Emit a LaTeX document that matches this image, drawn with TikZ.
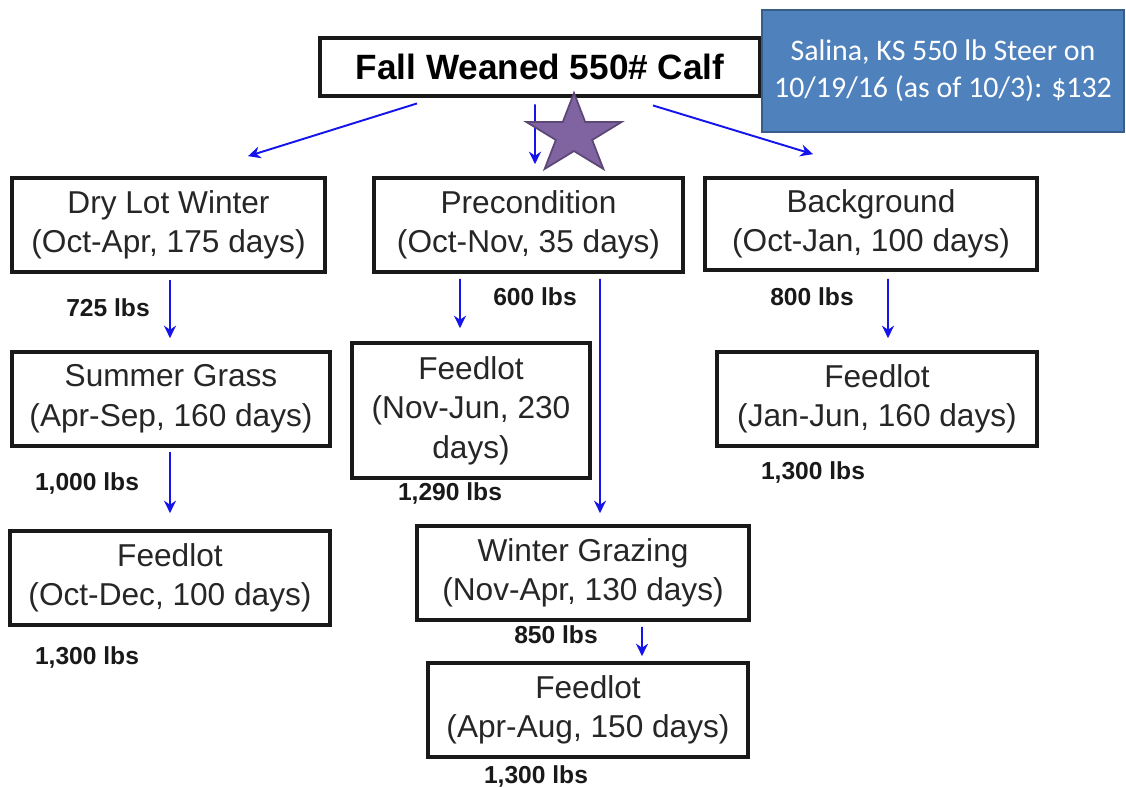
\documentclass[tikz,border=0pt]{standalone}
\usepackage{fontspec}
\setmainfont{Liberation Sans}
\newfontfamily\pricefont{Carlito}
\usetikzlibrary{arrows.meta}
\definecolor{arrowblue}{RGB}{20,20,235}
\definecolor{priceblue}{HTML}{4F81BD}
\definecolor{priceedge}{HTML}{385D8A}
\definecolor{starfill}{HTML}{8064A2}
\definecolor{staredge}{HTML}{5C4776}

\begin{document}
\begin{tikzpicture}[x=0.2mm,y=-0.2mm]
  \tikzstyle{stagebox}=[draw=black!90,line width=2.1pt,align=center,inner sep=0pt,font=\fontsize{18}{22.5}\selectfont,text=black!85]
  \tikzstyle{weight}=[inner sep=0pt,font=\fontsize{14}{16}\selectfont\bfseries,text=black!90]
  \tikzstyle{flow}=[draw=arrowblue,line width=1.1pt,-{Stealth[length=2.5mm,width=2.4mm]}]
  \useasboundingbox (0,0) rectangle (1126,786);

  % boxes
  \node[stagebox,line width=2.8pt,minimum width=88mm,minimum height=11.6mm,font=\fontsize{20}{24}\selectfont\bfseries,text=black] (calf) at (540,67) {Fall Weaned 550\# Calf};
  \node[draw=priceedge,fill=priceblue,line width=1.2pt,minimum width=72.4mm,minimum height=24.4mm,align=center,inner sep=0pt,text=white,font=\pricefont\fontsize{17}{21}\selectfont] (price) at (943,71) {Salina, KS 550 lb Steer on\\10/19/16 (as of 10/3): \$132};
  \node[stagebox,minimum width=62.6mm,minimum height=18.8mm] (drylot) at (168.5,225) {Dry Lot Winter\\(Oct-Apr, 175 days)};
  \node[stagebox,minimum width=61.8mm,minimum height=18.8mm] (precond) at (528.5,225) {Precondition\\(Oct-Nov, 35 days)};
  \node[stagebox,minimum width=66.4mm,minimum height=18.4mm] (backgr) at (871,224) {Background\\(Oct-Jan, 100 days)};
  \node[stagebox,minimum width=63.6mm,minimum height=18.8mm] (summer) at (171,399) {Summer Grass\\(Apr-Sep, 160 days)};
  \node[stagebox,minimum width=47.6mm,minimum height=27mm] (feednov) at (471,410.5) {Feedlot\\(Nov-Jun, 230\\days)};
  \node[stagebox,minimum width=64mm,minimum height=18.8mm] (feedjan) at (877,399) {Feedlot\\(Jan-Jun, 160 days)};
  \node[stagebox,minimum width=64mm,minimum height=18.8mm] (feedoct) at (170,578) {Feedlot\\(Oct-Dec, 100 days)};
  \node[stagebox,minimum width=66.4mm,minimum height=18.8mm] (wintergr) at (583,573) {Winter Grazing\\(Nov-Apr, 130 days)};
  \node[stagebox,minimum width=64mm,minimum height=18.8mm] (feedapr) at (588,710) {Feedlot\\(Apr-Aug, 150 days)};

  % weights
  \node[weight] (w725) at (108,308) {725 lbs};
  \node[weight] (w600) at (535,297) {600 lbs};
  \node[weight] (w800) at (812,297) {800 lbs};
  \node[weight] (w1000) at (87,483) {1,000 lbs};
  \node[weight] (w1290) at (450,493) {1,290 lbs};
  \node[weight] (w1300jan) at (813,472) {1,300 lbs};
  \node[weight] (w1300oct) at (87,657) {1,300 lbs};
  \node[weight] (w850) at (556,635) {850 lbs};
  \node[weight] (w1300apr) at (536,776) {1,300 lbs};

  % arrows
  \draw[flow] ([xshift=-24.6mm,yshift=-1mm]calf.south) -- ([xshift=15.9mm,yshift=4mm]drylot.north);
  \draw[flow] ([xshift=-1mm,yshift=-1.2mm]calf.south) -- ([xshift=1.3mm,yshift=2.4mm]precond.north);
  \draw[flow] ([xshift=22.6mm,yshift=-1.4mm]calf.south) -- ([xshift=-11.6mm,yshift=4.4mm]backgr.north);
  \draw[flow] ([xshift=0.3mm,yshift=-1.2mm]drylot.south) -- ([xshift=-0.2mm,yshift=2.4mm]summer.north);
  \draw[flow] ([xshift=-0.2mm,yshift=-0.8mm]summer.south) -- ([yshift=3.2mm]feedoct.north);
  \draw[flow] ([xshift=-13.7mm,yshift=-1mm]precond.south) -- ([xshift=-2.2mm,yshift=2.6mm]feednov.north);
  \draw[flow] ([xshift=14.3mm,yshift=-1mm]precond.south) -- ([xshift=3.4mm,yshift=2.2mm]wintergr.north);
  \draw[flow] ([xshift=3.4mm,yshift=-1.4mm]backgr.south) -- ([xshift=2.2mm,yshift=2.4mm]feedjan.north);
  \draw[flow] ([xshift=11.8mm,yshift=-1mm]wintergr.south) -- ([xshift=10.8mm,yshift=1mm]feedapr.north);

  % star
  \begin{scope}[shift={(574,135)},x=10mm,y=8.4mm]
    \filldraw[fill=starfill,draw=staredge,line width=1pt,line join=miter] (90:1)
      \foreach \k in {1,...,9} {-- ({90+36*\k}:{mod(\k,2)==1 ? 0.382 : 1})} -- cycle;
  \end{scope}
\end{tikzpicture}
\end{document}
